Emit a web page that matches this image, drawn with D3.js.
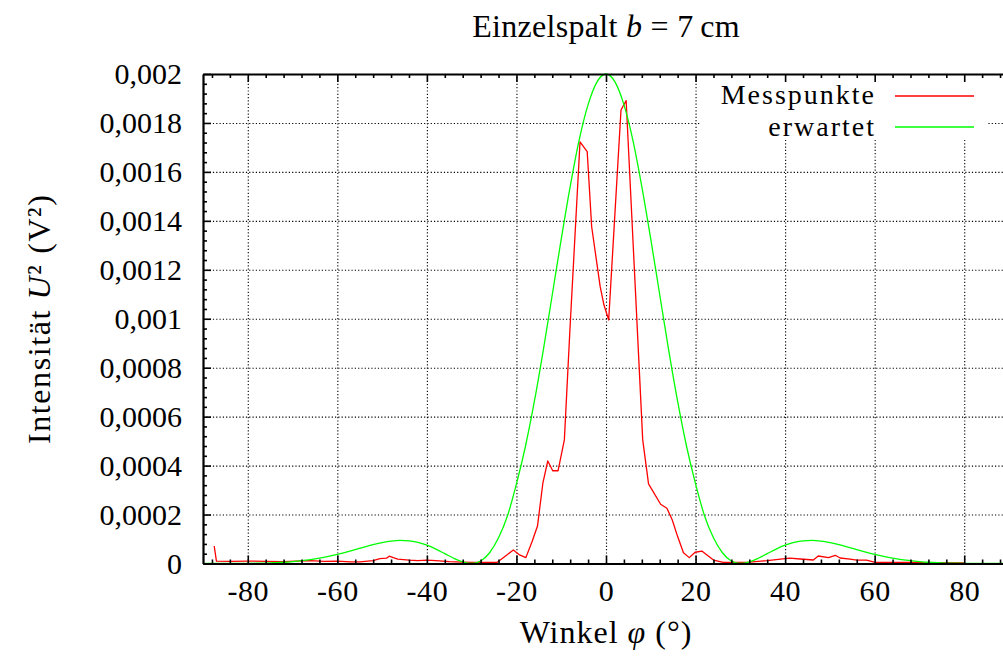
<!DOCTYPE html>
<html>
<head>
<meta charset="utf-8">
<script src="https://cdn.jsdelivr.net/npm/d3@7"></script>
<style>
  html, body { margin: 0; padding: 0; background: #fff; }
  svg { display: block; }
  text { font-family: "Liberation Serif", "Times New Roman", serif; fill: #000; }
</style>
</head>
<body>
<svg id="chart" width="1003" height="657"></svg>
<script>
// ---- data ----
const titleText = "Einzelspalt";
const xLabelText = "Winkel";
const seriesNames = ["Messpunkte", "erwartet"];
const seriesColors = ["#ff0000", "#00ff00"];

const xTicks = [-80, -60, -40, -20, 0, 20, 40, 60, 80];
const xTickLabels = ["-80", "-60", "-40", "-20", "0", "20", "40", "60", "80"];
const yTicks = [0, 0.0002, 0.0004, 0.0006, 0.0008, 0.001, 0.0012, 0.0014, 0.0016, 0.0018, 0.002];
const yTickLabels = ["0", "0,0002", "0,0004", "0,0006", "0,0008", "0,001", "0,0012", "0,0014", "0,0016", "0,0018", "0,002"];

// measured points (Messpunkte)
const messAngles = [-87.5, -87, -84, -80, -76, -72, -68, -66, -63, -60, -57, -55, -52, -50.5, -49, -48.4, -47.5, -46.5, -44, -42, -40, -38, -35, -32, -30, -27, -24.3, -22.5, -20.7, -19.3, -17.9, -16.5, -15.3, -14.1, -13.0, -11.9, -10.7, -9.3, -8.1, -5.8, -4.2, -3.2, -1.3, -0.45, 0.6, 3.35, 4.5, 8.2, 9.5, 12.2, 13.6, 14.8, 16.0, 17.3, 18.6, 19.9, 21.4, 24.0, 26.2, 29, 32, 36, 39, 41, 43.4, 46.3, 47.4, 49.7, 51.2, 52.3, 54.5, 56, 58.2, 60.1, 64, 68, 72, 76, 80];
const messValues = [0.0000715, 0.000010, 0.000009, 0.000010, 0.000009, 0.000008, 0.000011, 0.000012, 0.000009, 0.000010, 0.000007, 0.000007, 0.000012, 0.000020, 0.000022, 0.000030, 0.000024, 0.000018, 0.000014, 0.000012, 0.000014, 0.000012, 0.000008, 0.000006, 0.000005, 0.000005, 0.000005, 0.000030, 0.000055, 0.000035, 0.000024, 0.000090, 0.000153, 0.000328, 0.000419, 0.000379, 0.000379, 0.000505, 0.000940, 0.001723, 0.001683, 0.001376, 0.001131, 0.001056, 0.000995, 0.001853, 0.001891, 0.000505, 0.000325, 0.000242, 0.000226, 0.000178, 0.000110, 0.000044, 0.000024, 0.000046, 0.000051, 0.000014, 0.000005, 0.000004, 0.000006, 0.000012, 0.000018, 0.000022, 0.0000184, 0.0000143, 0.0000306, 0.000024, 0.0000335, 0.0000225, 0.000018, 0.000014, 0.000014, 0.000005, 0.000004, 0.000004, 0.000003, 0.000003, 0.000002];

// expected curve (erwartet)
const expAngles = [-90, -88, -86, -84, -82, -80, -78, -76, -74, -72, -70, -68, -66, -64, -62, -60, -58, -56, -54, -52, -50, -48, -46, -44, -42, -40, -38, -36, -34, -32, -30, -28, -26, -24, -22, -20, -18, -16, -14, -12, -10, -8, -6, -4, -2, 0, 2, 4, 6, 8, 10, 12, 14, 16, 18, 20, 22, 24, 26, 28, 30, 32, 34, 36, 38, 40, 42, 44, 46, 48, 50, 52, 54, 56, 58, 60, 62, 64, 66, 68, 70, 72, 74, 76, 78, 80, 82, 84, 86, 88, 90];
const expValues = [0, 0, 0, 0.0000001, 0.0000002, 0.0000005, 0.000001, 0.0000019, 0.0000032, 0.0000051, 0.0000079, 0.0000115, 0.0000162, 0.0000221, 0.0000293, 0.0000376, 0.0000469, 0.000057, 0.0000672, 0.000077, 0.0000855, 0.0000916, 0.0000943, 0.0000928, 0.0000863, 0.0000749, 0.000059, 0.0000403, 0.0000214, 0.0000063, 0, 0.000010, 0.000044, 0.000105, 0.000195, 0.000325, 0.000478, 0.000662, 0.000872, 0.001098, 0.001325, 0.00154, 0.00173, 0.001875, 0.001968, 0.002, 0.001968, 0.001875, 0.00173, 0.00154, 0.001325, 0.001098, 0.000872, 0.000662, 0.000478, 0.000325, 0.000195, 0.000105, 0.000044, 0.000010, 0, 0.0000063, 0.0000214, 0.0000403, 0.000059, 0.0000749, 0.0000863, 0.0000928, 0.0000943, 0.0000916, 0.0000855, 0.000077, 0.0000672, 0.000057, 0.0000469, 0.0000376, 0.0000293, 0.0000221, 0.0000162, 0.0000115, 0.0000079, 0.0000051, 0.0000032, 0.0000019, 0.000001, 0.0000005, 0.0000002, 0.0000001, 0, 0, 0];

// ---- chart ----
const svg = d3.select("#chart");
const pL = 203, pR = 1009, pT = 74, pB = 563.5;
const x = d3.scaleLinear().domain([-90, 90]).range([pL, pR]);
const y = d3.scaleLinear().domain([0, 0.002]).range([pB, pT]);

const xMinor = d3.range(-88, 89, 4).filter(v => v % 20 !== 0);
const yMinor = d3.range(0, 51).map(i => i * 0.00004).filter((v, i) => i % 5 !== 0);

// grid
const grid = svg.append("g").attr("class", "grid");
grid.append("g").attr("transform", `translate(0,${pB})`)
  .call(d3.axisBottom(x).tickValues(xTicks).tickSize(-(pB - pT)).tickFormat(""));
grid.append("g").attr("transform", `translate(${pL},0)`)
  .call(d3.axisLeft(y).tickValues(yTicks.slice(1, -1)).tickSize(-(pR - pL)).tickFormat(""));
grid.selectAll("path.domain").remove();
grid.selectAll("line").attr("stroke", "#000").attr("stroke-width", 1.1).attr("stroke-dasharray", "1.2,2.1");

// legend background
svg.append("rect").attr("x", 700).attr("y", 76).attr("width", 288).attr("height", 64).attr("fill", "#fff");

// lines
const messData = messAngles.map((a, i) => [a, messValues[i]]);
const expData = expAngles.map((a, i) => [a, expValues[i]]);
const plot = svg.append("g");
plot.append("path").datum(messData)
  .attr("d", d3.line().x(d => x(d[0])).y(d => y(d[1])))
  .attr("fill", "none")
  .attr("stroke", seriesColors[0]).attr("stroke-width", 1.3).attr("stroke-linejoin", "round");
plot.append("path").datum(expData)
  .attr("d", d3.line().x(d => x(d[0])).y(d => y(d[1])).curve(d3.curveMonotoneX))
  .attr("fill", "none")
  .attr("stroke", seriesColors[1]).attr("stroke-width", 1.3);

// axes (ticks inward)
function styleAxis(g) {
  g.selectAll("path.domain").attr("stroke", "#000").attr("stroke-width", 2.2);
  g.selectAll(".tick line").attr("stroke", "#000").attr("stroke-width", 1.6);
}
const gB = svg.append("g").attr("transform", `translate(0,${pB})`)
  .call(d3.axisBottom(x).tickValues(xTicks).tickSize(-8).tickSizeOuter(0)
    .tickFormat((d, i) => xTickLabels[i]));
styleAxis(gB);
gB.selectAll("text").attr("y", 37).attr("dy", 0).attr("font-size", 30)
  .attr("font-family", "Liberation Serif").attr("letter-spacing", 0.6);
const gBm = svg.append("g").attr("transform", `translate(0,${pB})`)
  .call(d3.axisBottom(x).tickValues(xMinor).tickSize(-4).tickSizeOuter(0).tickFormat(""));
gBm.select("path.domain").remove(); styleAxis(gBm);

const gT = svg.append("g").attr("transform", `translate(0,${pT})`)
  .call(d3.axisTop(x).tickValues(xTicks).tickSize(-8).tickSizeOuter(0).tickFormat(""));
styleAxis(gT);
const gTm = svg.append("g").attr("transform", `translate(0,${pT})`)
  .call(d3.axisTop(x).tickValues(xMinor).tickSize(-4).tickSizeOuter(0).tickFormat(""));
gTm.select("path.domain").remove(); styleAxis(gTm);

const gL = svg.append("g").attr("transform", `translate(${pL},0)`)
  .call(d3.axisLeft(y).tickValues(yTicks).tickSize(-8).tickSizeOuter(0)
    .tickFormat((d, i) => yTickLabels[i]));
styleAxis(gL);
gL.selectAll("text").attr("x", -21).attr("dy", 9.5).attr("font-size", 30)
  .attr("font-family", "Liberation Serif").attr("text-anchor", "end");
const gLm = svg.append("g").attr("transform", `translate(${pL},0)`)
  .call(d3.axisLeft(y).tickValues(yMinor).tickSize(-4).tickSizeOuter(0).tickFormat(""));
gLm.select("path.domain").remove(); styleAxis(gLm);

// title
const t = svg.append("text").attr("x", 606).attr("y", 37)
  .attr("text-anchor", "middle").attr("font-size", 32).attr("letter-spacing", 0.3);
t.append("tspan").text(titleText + " ");
t.append("tspan").attr("font-style", "italic").text("b");
t.append("tspan").text(" = 7\u2009cm");

// x label
const xl = svg.append("text").attr("x", 606).attr("y", 643)
  .attr("text-anchor", "middle").attr("font-size", 32).attr("letter-spacing", 1);
xl.append("tspan").text(xLabelText + " ");
xl.append("tspan").attr("font-style", "italic").text("φ");
xl.append("tspan").text(" (°)");

// y label
const yl = svg.append("text").attr("transform", `translate(50,${(pT + pB) / 2}) rotate(-90)`)
  .attr("text-anchor", "middle").attr("font-size", 32).attr("letter-spacing", 1.6);
yl.append("tspan").text("Intensität ");
yl.append("tspan").attr("font-style", "italic").text("U");
yl.append("tspan").text("²  (V²)");

// legend
const legY = [96, 127];
const legBase = [104, 135.5];
seriesNames.forEach((name, i) => {
  svg.append("text").attr("x", 876).attr("y", legBase[i]).attr("text-anchor", "end")
    .attr("font-size", 28).attr("letter-spacing", 2).text(name);
  svg.append("line").attr("x1", 895).attr("x2", 974).attr("y1", legY[i]).attr("y2", legY[i])
    .attr("stroke", seriesColors[i]).attr("stroke-width", 1.3);
});
</script>
</body>
</html>
